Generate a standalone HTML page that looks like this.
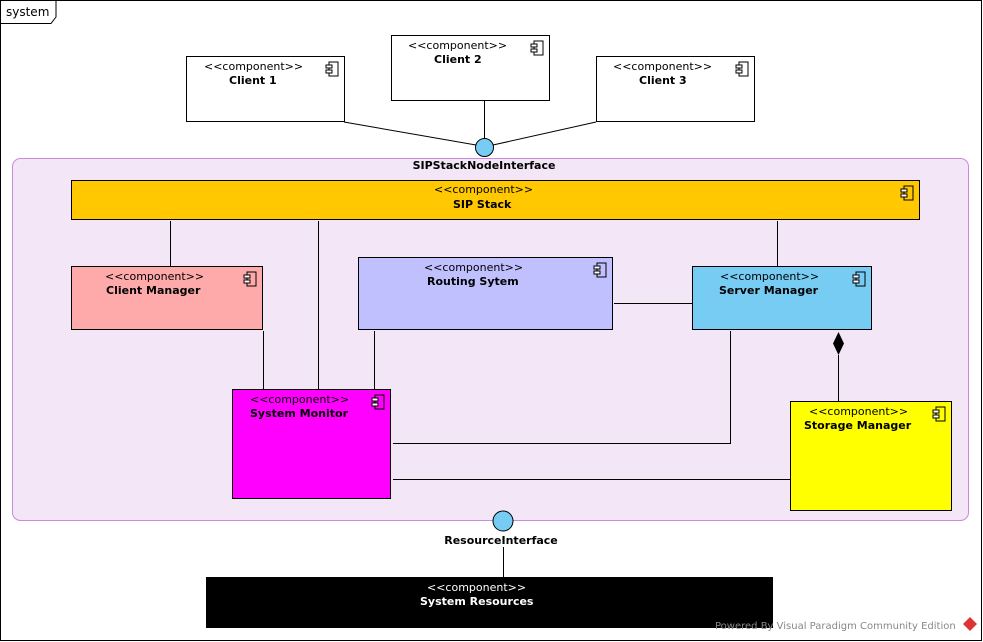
<!DOCTYPE html>
<html><head><meta charset="utf-8"><style>
html,body{margin:0;padding:0;background:#fff}
svg{display:block}
text{font-family:"DejaVu Sans","Liberation Sans",sans-serif;font-size:11px;fill:#000}
.b{font-weight:bold}
</style></head><body>
<svg width="983" height="642" viewBox="0 0 983 642" xmlns="http://www.w3.org/2000/svg">
<defs>
<g id="ic"><rect x="3" y="0" width="9" height="14" fill="none" stroke="#000"/><rect x="0" y="3" width="6" height="3" fill="#fff" stroke="#000"/><rect x="0" y="8" width="6" height="3" fill="#fff" stroke="#000"/></g>
</defs>
<rect x="0.5" y="0.5" width="981" height="640" fill="#fff" stroke="#000"/>
<path d="M0.5 23.5 H51 L56 17 V0.5" fill="none" stroke="#000"/>
<text x="6" y="16" style="font-size:12px">system</text>

<rect x="12.5" y="158.5" width="956" height="362" rx="8" fill="#f3e6f6" stroke="#cc88dd"/>
<text x="484" y="169" class="b" text-anchor="middle">SIPStackNodeInterface</text>

<g stroke="#000" stroke-width="1" fill="none">
<line x1="344" y1="122" x2="476" y2="145"/>
<line x1="484.5" y1="100" x2="484.5" y2="138"/>
<line x1="596" y1="122" x2="493" y2="145"/>
<line x1="170.5" y1="221" x2="170.5" y2="266"/>
<line x1="318.5" y1="221" x2="318.5" y2="389"/>
<line x1="777.5" y1="221" x2="777.5" y2="266"/>
<line x1="263.5" y1="331" x2="263.5" y2="389"/>
<line x1="374.5" y1="331" x2="374.5" y2="389"/>
<line x1="614" y1="303.5" x2="692" y2="303.5"/>
<polyline points="730.5,331 730.5,443.5 393,443.5"/>
<line x1="393" y1="479.5" x2="790" y2="479.5"/>
<line x1="838.5" y1="355" x2="838.5" y2="401"/>
<line x1="503.5" y1="547" x2="503.5" y2="577"/>
</g>
<path d="M838.5 332 L844 343.5 L838.5 355 L833 343.5 Z" fill="#000"/>
<circle cx="484.5" cy="147.5" r="9" fill="#77ccf4" stroke="#000"/>
<circle cx="503" cy="521" r="10" fill="#77ccf4" stroke="#000"/>
<text x="501" y="544" class="b" text-anchor="middle">ResourceInterface</text>

<!-- clients -->
<rect x="186.5" y="56.5" width="158" height="65" fill="#fff" stroke="#000"/>
<use href="#ic" x="326" y="62"/>
<text x="204" y="70">&lt;&lt;component&gt;&gt;</text><text x="229" y="84" class="b">Client 1</text>
<rect x="391.5" y="35.5" width="158" height="65" fill="#fff" stroke="#000"/>
<use href="#ic" x="531" y="41"/>
<text x="408" y="49">&lt;&lt;component&gt;&gt;</text><text x="434" y="63" class="b">Client 2</text>
<rect x="596.5" y="56.5" width="158" height="65" fill="#fff" stroke="#000"/>
<use href="#ic" x="736" y="62"/>
<text x="613" y="70">&lt;&lt;component&gt;&gt;</text><text x="639" y="84" class="b">Client 3</text>

<rect x="71.5" y="180.5" width="848" height="39" fill="#ffc800" stroke="#000"/>
<use href="#ic" x="901" y="186"/>
<text x="434" y="193">&lt;&lt;component&gt;&gt;</text><text x="453" y="208" class="b">SIP Stack</text>

<rect x="71.5" y="266.5" width="191" height="63" fill="#ffaaaa" stroke="#000"/>
<use href="#ic" x="244" y="272"/>
<text x="105" y="280">&lt;&lt;component&gt;&gt;</text><text x="106" y="294" class="b">Client Manager</text>

<rect x="358.5" y="257.5" width="254" height="72" fill="#c0c0ff" stroke="#000"/>
<use href="#ic" x="594" y="263"/>
<text x="424" y="271">&lt;&lt;component&gt;&gt;</text><text x="427" y="285" class="b">Routing Sytem</text>

<rect x="692.5" y="266.5" width="179" height="63" fill="#77ccf4" stroke="#000"/>
<use href="#ic" x="853" y="272"/>
<text x="720" y="280">&lt;&lt;component&gt;&gt;</text><text x="719" y="294" class="b">Server Manager</text>

<rect x="232.5" y="389.5" width="158" height="109" fill="#ff00ff" stroke="#000"/>
<use href="#ic" x="372" y="395"/>
<text x="250" y="403">&lt;&lt;component&gt;&gt;</text><text x="250" y="417" class="b">System Monitor</text>

<rect x="790.5" y="401.5" width="161" height="109" fill="#ffff00" stroke="#000"/>
<use href="#ic" x="933" y="407"/>
<text x="809" y="415">&lt;&lt;component&gt;&gt;</text><text x="804" y="429" class="b">Storage Manager</text>

<rect x="206" y="577" width="567" height="51" fill="#000"/>
<text x="427" y="591" style="fill:#fff">&lt;&lt;component&gt;&gt;</text><text x="420" y="605" class="b" style="fill:#fff">System Resources</text>

<text x="715" y="629" style="font-size:10px;fill:#888">Powered By Visual Paradigm Community Edition</text>
<path d="M970 617 L977 624 L970 631 L963 624 Z" fill="#d33"/>
</svg>
</body></html>
